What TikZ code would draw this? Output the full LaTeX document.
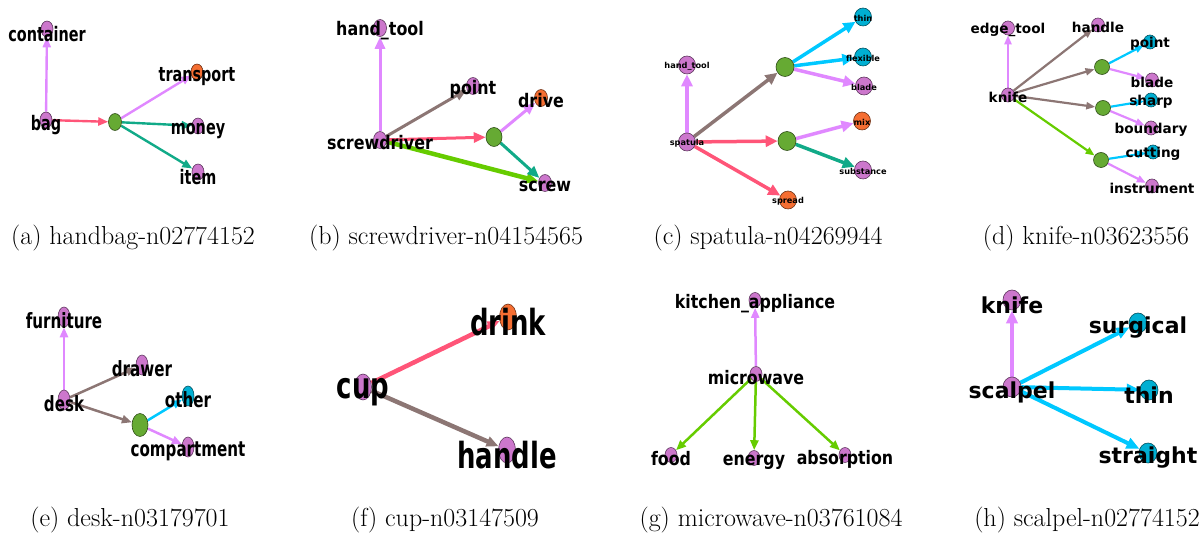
\documentclass[tikz,border=0pt]{standalone}
\usepackage{fontspec}
\usetikzlibrary{arrows.meta, shapes.geometric, backgrounds}

\newfontfamily\nlA[FakeStretch=0.72]{DejaVu Sans}
\newfontfamily\nlB[FakeStretch=0.85]{DejaVu Sans}
\newfontfamily\nlC{DejaVu Sans}

\definecolor{npurple}{RGB}{204,119,204}
\definecolor{norange}{RGB}{245,110,50}
\definecolor{ncyan}{RGB}{0,175,210}
\definecolor{ngreen}{RGB}{102,170,51}
\definecolor{elav}{RGB}{224,136,255}
\definecolor{epink}{RGB}{255,85,120}
\definecolor{eteal}{RGB}{17,170,136}
\definecolor{ebrown}{RGB}{140,118,116}
\definecolor{elime}{RGB}{102,204,0}
\definecolor{esky}{RGB}{0,200,255}

\tikzset{
    vtx/.style={ellipse, draw, line width=0.6pt, inner sep=0pt},
    pk/.style={vtx, fill=npurple, draw=npurple!45!black},
    og/.style={vtx, fill=norange, draw=norange!45!black},
    cy/.style={vtx, fill=ncyan, draw=ncyan!45!black},
    gn/.style={vtx, fill=ngreen, draw=ngreen!45!black},
    every label/.style={inner sep=0pt, text=black},
    caption/.style={anchor=base, inner sep=0pt, font=\fontsize{26}{31}\selectfont},
}

\begin{document}
\begin{tikzpicture}[x=1pt, y=-1pt]

    \useasboundingbox (0,0) rectangle (1203,534);

    % (a) handbag
    \begin{scope}[
        vtx/.append style={minimum width=12pt, minimum height=16pt},
        gn/.append style={minimum width=13pt, minimum height=17pt},
        every label/.append style={font=\nlA\bfseries\fontsize{20}{20}\selectfont, yshift=-5pt},
        every edge/.append style={line width=2.4pt, -{Triangle[length=10pt, width=8pt]}},
    ]
        \node[pk, label={[name=a-container-t]center:container}] (a-container) at (47,29)  {};
        \node[pk, label={[name=a-bag-t]center:bag}]             (a-bag)       at (46,120) {};
        \node[gn]                                               (a-g)         at (115,122) {};
        \node[og, label={[name=a-transport-t]center:transport}] (a-transport) at (197,72) {};
        \node[pk, label={[name=a-money-t]center:money}]         (a-money)     at (198,126) {};
        \node[pk, label={[name=a-item-t]center:item}]           (a-item)      at (198,172) {};

        \begin{scope}[on background layer]
            \path
                (a-bag) edge [elav]  (a-container)
                (a-bag) edge [epink] (a-g)
                (a-g)   edge [elav]  (a-transport)
                (a-g)   edge [eteal] (a-money)
                (a-g)   edge [eteal] (a-item)
            ;
        \end{scope}
        \node[caption] (a-cap) at (133,245) {(a) handbag-n02774152};
    \end{scope}

    % (b) screwdriver
    \begin{scope}[
        vtx/.append style={minimum width=13pt, minimum height=17pt},
        gn/.append style={minimum width=16pt, minimum height=19pt},
        every label/.append style={font=\nlB\bfseries\fontsize{18.7}{18.7}\selectfont, yshift=-3pt},
        every edge/.append style={line width=3pt, -{Triangle[length=12pt, width=10pt]}},
    ]
        \node[pk, label={[name=b-handtool-t]center:hand\_tool}]     (b-handtool) at (380,28)  {};
        \node[pk, label={[name=b-point-t]center:point}]             (b-point)    at (473,86)  {};
        \node[og, label={[name=b-drive-t]center:drive}]             (b-drive)    at (541,98)  {};
        \node[pk, label={[name=b-screwdriver-t]center:screwdriver}] (b-sd)       at (380,140) {};
        \node[gn]                                                   (b-g)        at (494,137) {};
        \node[pk, label={[name=b-screw-t]center:screw}]             (b-screw)    at (545,183) {};

        \begin{scope}[on background layer]
            \path
                (b-sd) edge [elav]                    (b-handtool)
                (b-sd) edge [ebrown]                  (b-point)
                (b-sd) edge [elime, line width=4.5pt] (b-screw)
                (b-sd) edge [epink]                   (b-g)
                (b-g)  edge [elav]                    (b-drive)
                (b-g)  edge [eteal]                   (b-screw)
            ;
        \end{scope}
        \node[caption] (b-cap) at (446,245) {(b) screwdriver-n04154565};
    \end{scope}

    % (c) spatula
    \begin{scope}[
        vtx/.append style={minimum width=17pt, minimum height=18pt},
        gn/.append style={minimum width=18pt, minimum height=19pt},
        every label/.append style={font=\nlC\bfseries\fontsize{8.2}{8.2}\selectfont, yshift=-1pt},
        every edge/.append style={line width=3.5pt, -{Triangle[length=12pt, width=11pt]}},
    ]
        \node[pk, label={[name=c-handtool-t]center:hand\_tool}]   (c-handtool)  at (687,65)  {};
        \node[pk, label={[name=c-spatula-t]center:spatula}]       (c-spatula)   at (687,142) {};
        \node[gn]                                                 (c-g1)        at (785,67)  {};
        \node[cy, label={[name=c-thin-t]center:thin}]             (c-thin)      at (863,17)  {};
        \node[cy, label={[name=c-flexible-t]center:flexible}]     (c-flexible)  at (863,57)  {};
        \node[pk, label={[name=c-blade-t]center:blade}]           (c-blade)     at (864,86)  {};
        \node[og, label={[name=c-mix-t]center:mix}]               (c-mix)       at (862,121) {};
        \node[gn]                                                 (c-g2)        at (787,141) {};
        \node[pk, label={[name=c-substance-t]center:substance}]   (c-substance) at (863,170) {};
        \node[og, label={[name=c-spread-t]center:spread}]         (c-spread)    at (788,200) {};

        \begin{scope}[on background layer]
            \path
                (c-spatula) edge [elav]   (c-handtool)
                (c-spatula) edge [ebrown] (c-g1)
                (c-spatula) edge [epink]  (c-g2)
                (c-spatula) edge [epink]  (c-spread)
                (c-g1)      edge [esky]   (c-thin)
                (c-g1)      edge [esky]   (c-flexible)
                (c-g1)      edge [elav]   (c-blade)
                (c-g2)      edge [elav]   (c-mix)
                (c-g2)      edge [eteal]  (c-substance)
            ;
        \end{scope}
        \node[caption] (c-cap) at (768,245) {(c) spatula-n04269944};
    \end{scope}

    % (d) knife
    \begin{scope}[
        vtx/.append style={minimum width=13pt, minimum height=14pt},
        gn/.append style={minimum width=15pt, minimum height=15pt},
        every label/.append style={font=\nlC\bfseries\fontsize{13.6}{13.6}\selectfont, yshift=-2pt},
        every edge/.append style={line width=2.2pt, -{Triangle[length=9pt, width=7pt]}},
    ]
        \node[pk, label={[name=d-edgetool-t]center:edge\_tool}]     (d-edgetool)   at (1008,28)  {};
        \node[pk, label={[name=d-handle-t]center:handle}]           (d-handle)     at (1098,25)  {};
        \node[pk, label={[name=d-knife-t]center:knife}]             (d-knife)      at (1008,95)  {};
        \node[gn]                                                   (d-g1)         at (1102,67)  {};
        \node[cy, label={[name=d-point-t]center:point}]             (d-point)      at (1150,42)  {};
        \node[pk, label={[name=d-blade-t]center:blade}]             (d-blade)      at (1152,80)  {};
        \node[gn]                                                   (d-g2)         at (1103,108) {};
        \node[cy, label={[name=d-sharp-t]center:sharp}]             (d-sharp)      at (1151,100) {};
        \node[pk, label={[name=d-boundary-t]center:boundary}]       (d-boundary)   at (1151,128) {};
        \node[gn]                                                   (d-g3)         at (1101,160) {};
        \node[cy, label={[name=d-cutting-t]center:cutting}]         (d-cutting)    at (1153,152) {};
        \node[pk, label={[name=d-instrument-t]center:instrument}]   (d-instrument) at (1152,186) {};

        \begin{scope}[on background layer]
            \path
                (d-knife) edge [elav]   (d-edgetool)
                (d-knife) edge [ebrown] (d-handle)
                (d-knife) edge [ebrown] (d-g1)
                (d-knife) edge [ebrown] (d-g2)
                (d-knife) edge [elime]  (d-g3)
                (d-g1)    edge [esky]   (d-point)
                (d-g1)    edge [elav]   (d-blade)
                (d-g2)    edge [esky]   (d-sharp)
                (d-g2)    edge [elav]   (d-boundary)
                (d-g3)    edge [esky]   (d-cutting)
                (d-g3)    edge [elav]   (d-instrument)
            ;
        \end{scope}
        \node[caption] (d-cap) at (1086,245) {(d) knife-n03623556};
    \end{scope}

    % (e) desk
    \begin{scope}[
        vtx/.append style={minimum width=12pt, minimum height=20pt},
        gn/.append style={minimum width=16pt, minimum height=23pt},
        every label/.append style={font=\nlA\bfseries\fontsize{21}{21}\selectfont, yshift=-4pt},
        every edge/.append style={line width=2.5pt, -{Triangle[length=10pt, width=8pt]}},
    ]
        \node[pk, label={[name=e-furniture-t]center:furniture}]     (e-furniture)   at (64,317)  {};
        \node[pk, label={[name=e-drawer-t]center:drawer}]           (e-drawer)      at (142,365) {};
        \node[pk, label={[name=e-desk-t]center:desk}]               (e-desk)        at (64,400)  {};
        \node[gn]                                                   (e-g)           at (140,425) {};
        \node[cy, label={[name=e-other-t]center:other}]             (e-other)       at (188,396) {};
        \node[pk, label={[name=e-compartment-t]center:compartment}] (e-compartment) at (188,447) {};

        \begin{scope}[on background layer]
            \path
                (e-desk) edge [elav]   (e-furniture)
                (e-desk) edge [ebrown] (e-drawer)
                (e-desk) edge [ebrown] (e-g)
                (e-g)    edge [esky]   (e-other)
                (e-g)    edge [elav]   (e-compartment)
            ;
        \end{scope}
        \node[caption] (e-cap) at (130,526) {(e) desk-n03179701};
    \end{scope}

    % (f) cup
    \begin{scope}[
        vtx/.append style={minimum width=17pt, minimum height=26pt},
        every label/.append style={font=\nlA\bfseries\fontsize{36}{36}\selectfont, yshift=-5pt},
        every edge/.append style={line width=4.5pt, -{Triangle[length=12pt, width=10pt]}},
    ]
        \node[og, label={[name=f-drink-t]center:drink}]   (f-drink)  at (508,317) {};
        \node[pk, label={[name=f-cup-t]center:cup}]       (f-cup)    at (363,387) {};
        \node[pk, label={[name=f-handle-t]center:handle}] (f-handle) at (507,450) {};

        \begin{scope}[on background layer]
            \path
                (f-cup) edge [epink]  (f-drink)
                (f-cup) edge [ebrown] (f-handle)
            ;
        \end{scope}
        \node[caption] (f-cap) at (445,526) {(f) cup-n03147509};
    \end{scope}

    % (g) microwave
    \begin{scope}[
        vtx/.append style={minimum width=12pt, minimum height=15pt},
        every label/.append style={font=\nlB\bfseries\fontsize{18.6}{18.6}\selectfont, yshift=-4pt},
        every edge/.append style={line width=2.5pt, -{Triangle[length=10pt, width=8pt]}},
    ]
        \node[pk, label={[name=g-kitchen-t]center:kitchen\_appliance}] (g-kitchen)    at (755,300) {};
        \node[pk, label={[name=g-microwave-t]center:microwave}]        (g-microwave)  at (756,374) {};
        \node[pk, label={[name=g-food-t]center:food}]                  (g-food)       at (671,455) {};
        \node[pk, label={[name=g-energy-t]center:energy}]              (g-energy)     at (754,458) {};
        \node[pk, label={[name=g-absorption-t]center:absorption}]      (g-absorption) at (845,455) {};

        \begin{scope}[on background layer]
            \path
                (g-microwave) edge [elav]  (g-kitchen)
                (g-microwave) edge [elime] (g-food)
                (g-microwave) edge [elime] (g-energy)
                (g-microwave) edge [elime] (g-absorption)
            ;
        \end{scope}
        \node[caption] (g-cap) at (771,526) {(g) microwave-n03761084};
    \end{scope}

    % (h) scalpel
    \begin{scope}[
        vtx/.append style={minimum width=18pt, minimum height=20pt},
        every label/.append style={font=\nlC\bfseries\fontsize{22}{22}\selectfont, yshift=-5pt},
        every edge/.append style={line width=4pt, -{Triangle[length=13pt, width=11pt]}},
    ]
        \node[pk, label={[name=h-knife-t]center:knife}]       (h-knife)    at (1012,300) {};
        \node[cy, label={[name=h-surgical-t]center:surgical}] (h-surgical) at (1138,323) {};
        \node[pk, label={[name=h-scalpel-t]center:scalpel}]   (h-scalpel)  at (1012,387) {};
        \node[cy, label={[name=h-thin-t]center:thin}]         (h-thin)     at (1149,390) {};
        \node[cy, label={[name=h-straight-t]center:straight}] (h-straight) at (1148,453) {};

        \begin{scope}[on background layer]
            \path
                (h-scalpel) edge [elav] (h-knife)
                (h-scalpel) edge [esky] (h-surgical)
                (h-scalpel) edge [esky] (h-thin)
                (h-scalpel) edge [esky] (h-straight)
            ;
        \end{scope}
        \node[caption] (h-cap) at (1087,526) {(h) scalpel-n02774152};
    \end{scope}

\end{tikzpicture}
\end{document}
